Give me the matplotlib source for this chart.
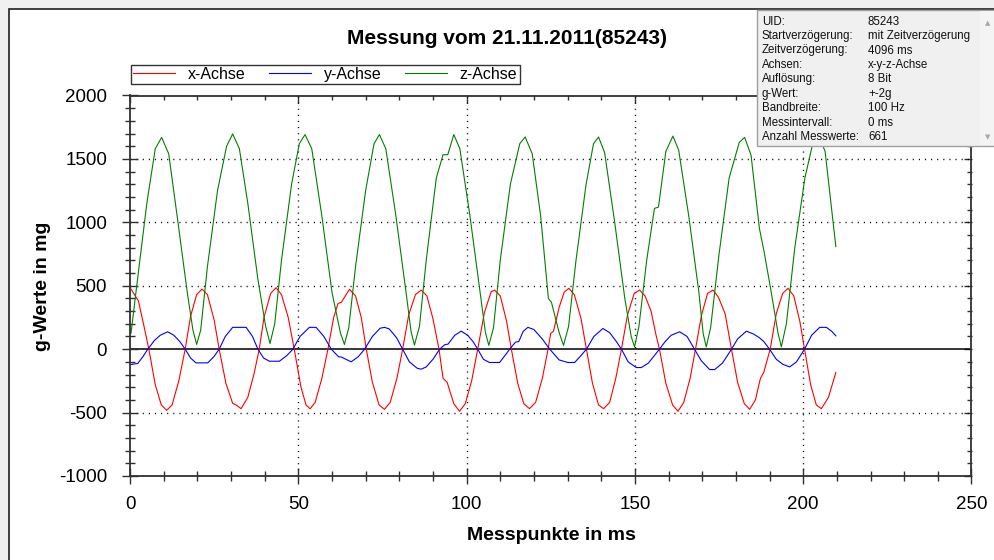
import matplotlib
matplotlib.use("Agg")
from matplotlib import pyplot as plt
from matplotlib.patches import Rectangle
from matplotlib.ticker import MultipleLocator

plt.rcParams["font.family"] = ["Liberation Sans", "DejaVu Sans"]
plt.rcParams["axes.unicode_minus"] = False

# z-Achse (green)
z_t = [0.3, 2, 5, 7.5, 9.4, 11.5, 14, 17, 18.7, 19.8, 21, 23, 26, 28.7, 30.5, 32.5, 35, 38, 40.3, 41.6,
       43, 45, 48, 50.3, 52, 54, 57, 60, 62.5, 63.7, 65, 67, 70, 72.5, 74.1, 76, 79, 82, 83.5, 84.5,
       86, 88, 91, 93, 94.4, 96.2, 98, 101, 104, 105.6, 106.6, 108, 110, 113, 115.8, 117.4, 119.5, 122,
       124.3, 125.2, 127.5, 128.8, 130.3, 132.5, 135.5, 137.7, 139.2, 141, 144, 147, 148.9, 149.9, 151.2,
       153.5, 155.8, 157, 159.2, 161.3, 163, 166, 169, 170.3, 171.2, 172.5, 175, 178, 181, 182.6, 184.5,
       187, 188.3, 190.5, 192.5, 193.5, 195, 197.5, 200.5, 203, 204.5, 206.5, 209.7]
z_val = [126, 500, 1150, 1580, 1670, 1540, 1050, 450, 150, 37, 150, 650, 1250, 1600, 1697, 1580, 1150, 550, 180, 45,
         200, 700, 1300, 1620, 1692, 1580, 1050, 450, 130, 37, 170, 650, 1250, 1620, 1692, 1580, 1050, 450, 140, 32,
         180, 700, 1350, 1533, 1533, 1692, 1580, 1050, 450, 130, 30, 170, 700, 1300, 1620, 1673, 1540, 1050,
         400, 370, 130, 30, 180, 700, 1300, 1620, 1673, 1550, 1000, 400, 100, 18, 180,
         700, 1110, 1120, 1560, 1680, 1570, 1050, 450, 120, 18, 170, 750, 1350, 1630, 1670, 1530,
         950, 780, 450, 130, 18, 200, 800, 1350, 1640, 1690, 1560, 809]

# x-Achse (red)
x_t = [0.3, 2.5, 4, 5.6, 7.5, 9.3, 10.9, 12.5, 14.5, 16.4, 18, 19.8, 21.4, 23, 25, 26.5, 28.5, 30.5, 31.5, 33,
       35, 36.8, 38.4, 39.8, 41.8, 43.4, 45, 47, 48.8, 50.8, 52.3, 53.5, 55, 57, 58.8, 60.5, 61.8, 62.8, 65.2,
       67, 68.7, 70.2, 72, 74, 75.6, 77.3, 79.3, 81, 82.8, 84.8, 86.5, 88.2, 90, 91.8, 93, 94.2, 96.2, 97.9,
       99.6, 101.5, 103.3, 105.3, 107.3, 108.3, 110, 111.8, 113.3, 115.2, 117, 118.7, 120.5, 122.5, 124.2, 125,
       125.8, 127.5, 129, 130.4, 132, 134, 135.6, 137.4, 139.2, 140.7, 142.5, 144.4, 146, 147.8, 149.8, 151.4,
       153, 154.8, 156.2, 157.3, 159.2, 161.2, 162.8, 164.5, 166.4, 168, 169.8, 171.6, 173.2, 174.8, 176.8,
       178.7, 180.5, 182.5, 184.1, 185.8, 187.3, 188.3, 190.2, 192, 193.9, 195.5, 197.2, 199, 200.4, 202.2,
       203.9, 205.4, 207.5, 209.7]
x_val = [474, 380, 200, 0, -280, -440, -482, -440, -250, 0, 260, 430, 474, 430, 230, 0, -270, -427, -440, -469,
         -380, -200, 0, 250, 440, 485, 430, 250, 0, -300, -440, -470, -420, -230, 0, 250, 360, 370, 472,
         420, 250, 0, -260, -440, -474, -420, -230, 0, 270, 430, 466, 420, 240, 0, -230, -260, -430, -490,
         -430, -250, 0, 290, 453, 466, 420, 230, 0, -270, -430, -469, -420, -230, 0, 126,
         140, 330, 450, 480, 430, 240, 0, -270, -440, -469, -420, -220, 0, 270, 440, 466,
         420, 300, 120, 0, -270, -440, -490, -420, -230, 0, 270, 440, 466, 410, 280,
         0, -260, -430, -474, -400, -230, -182, 0, 280, 440, 480, 420, 220, 0, -280,
         -440, -469, -380, -184]

# y-Achse (blue)
y_t = [0.3, 2.3, 3.8, 5.3, 7.3, 9, 11.2, 13, 14.8, 16.4, 18, 19.6, 23.1, 24.9, 26.5, 28.3, 30.5, 34.5, 36.4, 38,
       39.7, 41.4, 44.4, 46.6, 48.4, 50.5, 53.3, 55.3, 57.6, 59.8, 62, 62.7, 65.7, 67.8, 69.7, 72, 74.3, 75.6,
       77, 79.2, 81, 83, 85.3, 86.5, 88, 90, 92, 93.5, 94.5, 96.5, 98.4, 100.3, 101.9, 103.3, 105, 106.8,
       109.8, 111.4, 112.8, 114.5, 115.5, 116.8, 118.2, 120, 122.5, 124.7, 127.5, 130.1, 132.1, 134, 135.6,
       137.8, 140.5, 142.5, 144.5, 146, 148, 150.4, 151.9, 154, 155.8, 157.3, 159, 160.8, 163.3, 165.5, 167.7,
       169.7, 172.2, 173.7, 176, 177.5, 178.7, 180.5, 183.1, 185.2, 187, 188.3, 190, 192, 194, 196, 198,
       200.4, 202.5, 204.9, 206.9, 208.5, 209.7]
y_val = [-121, -113, -60, 0, 70, 110, 137, 110, 60, 0, -70, -108, -108, -60, 0, 100, 172, 172, 100, 0,
         -70, -95, -95, -50, 0, 100, 172, 172, 100, 0, -61, -61, -100, -60, 0, 100, 165, 172,
         160, 90, 0, -100, -150, -158, -140, -80, 0, 35, 40, 110, 142, 110, 60, 0, -80, -105,
         -105, -50, 0, 55, 60, 140, 172, 155, 80, 0, -85, -105, -105, -50, 0,
         100, 163, 130, 60, 0, -100, -145, -145, -110, -50, 0, 60, 110, 137, 100, 0,
         -90, -161, -161, -110, -50, 0, 80, 142, 120, 90, 60, 0, -80, -120, -140, -100,
         0, 110, 172, 172, 140, 105]

info_labels = ["UID:", "Startverzögerung:", "Zeitverzögerung:", "Achsen:", "Auflösung:",
               "g-Wert:", "Bandbreite:", "Messintervall:", "Anzahl Messwerte:"]
info_values = ["85243", "mit Zeitverzögerung", "4096 ms", "x-y-z-Achse", "8 Bit",
               "+-2g", "100 Hz", "0 ms", "661"]

W, H = 995, 560
fig = plt.figure(figsize=(W / 100, H / 100), dpi=100)
fig.patch.set_facecolor("#f0f0f0")
# white panel with dark frame
fig.patches.append(Rectangle((8.5 / W, -0.1), 1.2, 1.1 - 8.5 / H, transform=fig.transFigure,
                             facecolor="white", edgecolor="#202020", lw=1.2, zorder=-5))

ax = fig.add_axes([130 / W, 1 - 476 / H, 841.5 / W, 380.5 / H])
ax.set_facecolor("none")

ax.plot(x_t, x_val, color="#ff0000", lw=0.8, label="x-Achse")
ax.plot(y_t, y_val, color="#0000ff", lw=0.8, label="y-Achse")
ax.plot(z_t, z_val, color="#008000", lw=0.8, label="z-Achse")
ax.axhline(0, color="black", lw=1.1, zorder=1)

ax.set_xlim(0, 250)
ax.set_ylim(-1000, 2000)
ax.xaxis.set_major_locator(MultipleLocator(50))
ax.xaxis.set_minor_locator(MultipleLocator(10))
ax.yaxis.set_major_locator(MultipleLocator(500))
ax.yaxis.set_minor_locator(MultipleLocator(100))

for g in [50, 100, 150, 200]:
    ax.axvline(g, color="black", lw=1.0, ls=(0, (0.8, 3.6)), zorder=0.5)
for g in [-500, 500, 1000, 1500]:
    ax.axhline(g, color="black", lw=1.0, ls=(0, (0.8, 3.6)), zorder=0.5)

for s in ax.spines.values():
    s.set_color("#303030")
    s.set_linewidth(1.3)

ax.tick_params(which="both", direction="inout", top=False, right=False, color="#303030", width=1.0,
               labelsize=13.5)
ax.tick_params(which="major", length=11)
ax.tick_params(which="minor", length=6.5)
ax.tick_params(axis="y", which="major", pad=11)
ax.tick_params(axis="x", which="major", pad=9)

# inward ticks on top and right
sec_x = ax.secondary_xaxis("top")
sec_x.xaxis.set_major_locator(MultipleLocator(50))
sec_x.xaxis.set_minor_locator(MultipleLocator(10))
sec_x.tick_params(which="both", direction="in", labeltop=False, color="#303030", width=1.0)
sec_x.tick_params(which="major", length=6)
sec_x.tick_params(which="minor", length=3.5)
sec_x.spines["top"].set_visible(False)
sec_y = ax.secondary_yaxis("right")
sec_y.yaxis.set_major_locator(MultipleLocator(500))
sec_y.yaxis.set_minor_locator(MultipleLocator(100))
sec_y.tick_params(which="both", direction="in", labelright=False, color="#303030", width=1.0)
sec_y.tick_params(which="major", length=6)
sec_y.tick_params(which="minor", length=3.5)
sec_y.spines["right"].set_visible(False)

fig.text(507 / W, 1 - 38 / H, "Messung vom 21.11.2011(85243)", ha="center", va="center",
         fontsize=15, fontweight="bold")
fig.text(551 / W, 1 - 535 / H, "Messpunkte in ms", ha="center", va="center",
         fontsize=14, fontweight="bold")
fig.text(43 / W, 1 - 286 / H, "g-Werte in mg", ha="center", va="center", rotation=90,
         fontsize=14, fontweight="bold")

leg = ax.legend(loc="upper left", bbox_to_anchor=(131 / W, 1 - 64.5 / H), bbox_transform=fig.transFigure,
                ncol=3, fontsize=11.5, frameon=True, fancybox=False, handlelength=2.6,
                handletextpad=0.8, columnspacing=1.5, borderpad=0.15, borderaxespad=0)
leg.get_frame().set_edgecolor("black")
leg.get_frame().set_linewidth(1.0)

# info panel
fig.patches.append(Rectangle((757 / W, 1 - 146 / H), 240 / W, 136 / H, transform=fig.transFigure,
                             facecolor="#f0f0f0", edgecolor="#a0a0a0", lw=1, zorder=5))
fig.patches.append(Rectangle((980 / W, 1 - 145 / H), 16 / W, 134 / H, transform=fig.transFigure,
                             facecolor="#f4f4f4", edgecolor="none", lw=0, zorder=6))
fig.text(988 / W, 1 - 23 / H, "▲", ha="center", va="center", fontsize=5, color="#a8a8a8",
         family="DejaVu Sans", zorder=7)
fig.text(988 / W, 1 - 137 / H, "▼", ha="center", va="center", fontsize=5, color="#a8a8a8",
         family="DejaVu Sans", zorder=7)
for i, (lab, val) in enumerate(zip(info_labels, info_values)):
    yy = 1 - (21.7 + i * 14.4) / H
    fig.text(762 / W, yy, lab, ha="left", va="center", fontsize=8.3, color="#101010", zorder=7)
    fig.text(868 / W, yy, val, ha="left", va="center", fontsize=8.3, color="#101010", zorder=7)

fig.savefig("out.png", dpi=100, facecolor=fig.get_facecolor())
